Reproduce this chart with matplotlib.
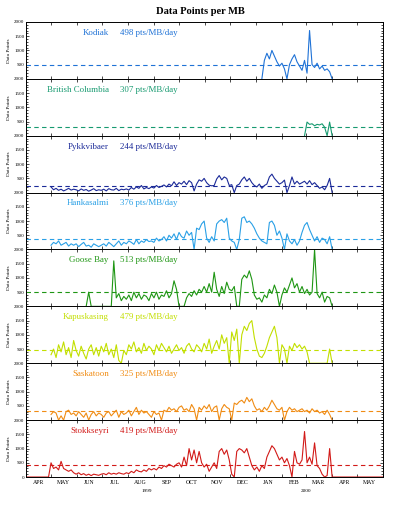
import matplotlib
matplotlib.use("Agg")
import matplotlib.pyplot as plt
import matplotlib.dates as mdates
from matplotlib.ticker import MultipleLocator, FuncFormatter
from matplotlib.transforms import blended_transform_factory
import pandas as pd

plt.rcParams["font.family"] = ["Liberation Serif", "DejaVu Serif"]

# station order top to bottom
stations = ["Kodiak", "British Columbia", "Pykkvibaer", "Hankasalmi",
            "Goose Bay", "Kapuskasing", "Saskatoon", "Stokkseyri"]
rates = [498, 307, 244, 376, 513, 479, 325, 419]
colors = ["#1f72d6", "#179a70", "#1b2a98", "#2aa0e6",
          "#1f9614", "#c2df00", "#f08c14", "#d21a18"]
# first sample of each series, samples every 3 days
starts = ["2000-01-08", "2000-02-28", "1999-05-01", "1999-05-01",
          "1999-06-12", "1999-05-01", "1999-05-01", "1999-04-01"]

kodiak = [0,
          650, 900, 700, 1000, 800, 600, 450, 550, 350, 0,
          500, 700, 850, 600, 450, 300, 650, 200, 1700, 500,
          400, 550, 350, 450, 300, 350, 250, 0]

british_columbia = [0, 480, 400, 420, 350, 400, 380, 420, 300, 0, 480, 0]

pykkvibaer = [200, 100, 150, 80, 120, 60, 100, 150, 90, 120,
              100, 60, 130, 80, 110, 50, 90, 140, 70, 100,
              80, 120, 60, 140, 100, 90, 150, 70, 120, 100,
              130, 90, 180, 120, 200, 150, 250, 130, 180, 140,
              200, 160, 250, 180, 220, 270, 200, 300, 240, 380,
              250, 350, 300, 400, 280, 420, 350, 60, 300, 450,
              400, 500, 350, 260, 240, 250, 480, 600, 450, 550,
              500, 250, 280, 0, 250, 300, 450, 550, 400, 500,
              350, 250, 200, 300, 150, 250, 300, 550, 650, 500,
              400, 300, 350, 440, 0, 250, 550, 300, 400, 300,
              350, 400, 300, 420, 280, 350, 250, 150, 200, 100,
              250, 500, 0]

hankasalmi = [150, 250, 200, 300, 150, 200, 250, 120, 200, 150,
              200, 100, 180, 250, 120, 150, 80, 200, 150, 100,
              150, 200, 120, 250, 180, 100, 200, 300, 150, 250,
              200, 300, 250, 180, 350, 200, 300, 250, 350, 280,
              300, 250, 400, 300, 350, 450, 300, 500, 400, 550,
              350, 600, 450, 400, 650, 500, 600, 0, 750, 700,
              900, 1000, 400, 250, 450, 300, 900, 1000, 1050, 950,
              1100, 400, 300, 250, 0, 350, 1100, 1150, 950, 1000,
              900, 750, 550, 400, 300, 250, 200, 950, 1000, 850,
              500, 650, 400, 0, 550, 300, 200, 350, 150, 300,
              600, 850, 950, 700, 500, 300, 450, 250, 400, 350,
              200, 450, 0]

goose_bay = [0, 500, 0, 0, 0, 0, 0, 0, 0, 0, 0,
             1600, 300, 450, 200, 350,
             250, 400, 200, 500, 300, 450, 250, 400, 350, 200,
             450, 300, 500, 250, 400, 350, 550, 300, 450, 900,
             600, 0, 0, 0, 300, 450, 350, 550, 400, 600,
             500, 700, 500, 800, 500, 1200, 600, 350, 700, 450,
             850, 600, 550, 700, 0, 0, 950, 1100, 1000, 1250,
             950, 400, 250, 300, 150, 400, 300, 600, 450, 750,
             500, 0, 400, 650, 500, 750, 1000, 650, 800, 500,
             700, 450, 600, 400, 500, 2000, 450, 300, 500, 150,
             350, 300, 0]

kapuskasing = [300, 500, 200, 650, 400, 750, 300, 550, 200, 800,
               450, 250, 600, 350, 150, 500, 650, 300, 550, 250,
               600, 400, 700, 300, 500, 200, 650, 100, 0, 450,
               300, 650, 500, 750, 400, 550, 350, 700, 450, 600,
               500, 300, 650, 450, 700, 550, 400, 600, 350, 500,
               650, 450, 550, 350, 600, 700, 500, 400, 650, 550,
               400, 700, 500, 850, 350, 600, 800, 500, 1000, 700,
               900, 0, 1100, 800, 1200, 0, 1000, 1300, 1150, 1400,
               1500, 900, 500, 250, 200, 350, 600, 900, 1100, 1300,
               900, 0, 650, 500, 0, 600, 450, 700, 550, 650,
               500, 600, 400, 0, 0, 0, 0, 0, 0, 0,
               0, 500, 0]

saskatoon = [200, 300, 250, 0, 150, 0, 300, 350, 200, 250,
             150, 300, 200, 100, 250, 0, 200, 300, 150, 250,
             200, 100, 250, 300, 150, 250, 350, 100, 300, 200,
             250, 350, 150, 300, 450, 200, 350, 250, 300, 200,
             100, 300, 200, 250, 0, 350, 300, 450, 350, 400,
             300, 450, 500, 350, 400, 300, 550, 400, 0, 450,
             350, 500, 400, 550, 300, 450, 500, 0, 400, 550,
             450, 400, 0, 600, 550, 650, 700, 600, 800, 650,
             750, 500, 350, 400, 300, 450, 350, 500, 700, 550,
             400, 350, 450, 0, 300, 450, 350, 400, 300, 350,
             400, 300, 350, 250, 400, 300, 350, 250, 300, 200,
             350, 200, 0]

stokkseyri = [0, 0, 0, 0, 0, 0, 0, 0, 0, 0,
              500, 300, 350, 250, 550, 300, 250, 200, 250, 150,
              100, 150, 80, 120, 60, 100, 50, 100, 80, 60,
              100, 120, 80, 150, 100, 130, 100, 150, 120, 100,
              150, 120, 200, 150, 250, 200, 180, 250, 200, 300,
              250, 300, 250, 350, 300, 400, 350, 450, 400, 350,
              450, 500, 350, 700, 400, 1000, 600, 950, 500, 900,
              500, 350, 450, 200, 350, 500, 300, 900, 1000, 800,
              950, 600, 100, 0, 900, 1000, 950, 850, 1000, 700,
              400, 250, 350, 200, 400, 300, 700, 900, 1100, 1000,
              800, 600, 700, 500, 650, 400, 0, 900, 500, 450,
              600, 1600, 500, 700, 450, 1200, 400, 300, 100, 0,
              50, 1000, 0,
              0, 0, 0, 0, 0, 0, 0, 0, 0, 0,
              0, 0, 0, 0, 0, 0, 0, 0, 0, 0, 0]

series = [kodiak, british_columbia, pykkvibaer, hankasalmi,
          goose_bay, kapuskasing, saskatoon, stokkseyri]

month_names = ["APR", "MAY", "JUN", "JUL", "AUG", "SEP", "OCT",
               "NOV", "DEC", "JAN", "FEB", "MAR", "APR", "MAY"]
year_labels = [("1999", "1999-08-24"), ("2000", "2000-03-01")]

x0, x1 = pd.Timestamp("1999-04-01"), pd.Timestamp("2000-06-01")
month_mids = pd.date_range("1999-04-01", periods=len(month_names), freq="MS") + pd.Timedelta(days=15)

fig = plt.figure(figsize=(3.93, 5.11), dpi=100)
left, width = 0.066, 0.909
bottom, top = 0.0665, 0.957
h = (top - bottom) / len(stations)

for k, (name, rate, color, start, vals) in enumerate(zip(stations, rates, colors, starts, series)):
    ax = fig.add_axes([left, top - (k + 1) * h, width, h])
    dates = pd.date_range(start, periods=len(vals), freq="3D")
    ax.plot(dates, vals, color=color, lw=0.8)
    ax.axhline(rate, color=color, lw=0.8, ls=(0, (4, 3)))
    ax.set_xlim(x0, x1)
    ax.set_ylim(0, 2000)

    last = k == len(stations) - 1
    ax.yaxis.set_major_locator(MultipleLocator(500))
    ax.yaxis.set_minor_locator(MultipleLocator(100))
    # the 0 label of upper panels sits under the 2000 of the next one
    ax.yaxis.set_major_formatter(FuncFormatter(
        lambda v, p, last=last: f"{v:.0f}" if (v > 0 or last) else ""))
    ax.xaxis.set_major_locator(mdates.MonthLocator())
    ax.xaxis.set_major_formatter(FuncFormatter(lambda v, p: ""))
    ax.tick_params(which="both", direction="in", top=True, right=True,
                   labelsize=3.6, width=0.5, pad=1)
    ax.tick_params(which="major", length=2.5)
    ax.tick_params(which="minor", length=1.3)
    ax.tick_params(axis="x", which="minor", length=0)
    for s in ax.spines.values():
        s.set_linewidth(0.7)
    ax.set_ylabel("Data Points", fontsize=3.8, labelpad=2)

    ax.text(0.232, 0.81, name, transform=ax.transAxes, color=color,
            fontsize=6.4, ha="right", va="center")
    ax.text(0.262, 0.81, f"{rate} pts/MB/day", transform=ax.transAxes,
            color=color, fontsize=6.4, ha="left", va="center")

    if last:
        ax.set_xticks(month_mids, minor=True)
        ax.set_xticklabels(month_names, minor=True, fontsize=4.2)
        ax.tick_params(axis="x", which="minor", pad=2.5)
        trans = blended_transform_factory(ax.transData, ax.transAxes)
        for label, d in year_labels:
            ax.text(pd.Timestamp(d), -0.25, label, transform=trans,
                    fontsize=3.8, ha="center", va="center")

fig.text(0.51, 0.978, "Data Points per MB", ha="center", va="center",
         fontsize=7.6, fontweight="bold")

plt.savefig("out.png", dpi=100)
plt.close(fig)
